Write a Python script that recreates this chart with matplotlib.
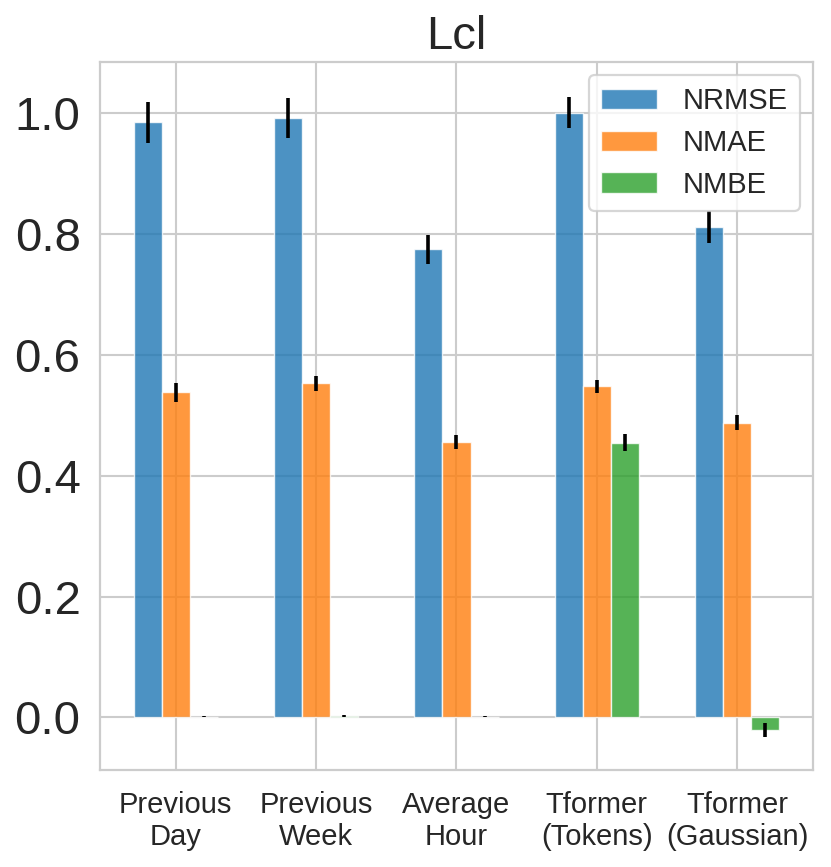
import matplotlib
matplotlib.use("Agg")
import matplotlib.pyplot as plt
import numpy as np
import seaborn as sns

sns.set_style("whitegrid")
plt.rcParams['font.family'] = ['Liberation Sans', 'DejaVu Sans']
plt.rcParams['grid.linewidth'] = 1.5
plt.rcParams['axes.linewidth'] = 1.6
plt.rcParams['legend.edgecolor'] = '0.8'

title = "Lcl"
categories = ["Previous\nDay", "Previous\nWeek", "Average\nHour", "Tformer\n(Tokens)", "Tformer\n(Gaussian)"]
series_names = ["NRMSE", "NMAE", "NMBE"]
nrmse = [0.985, 0.992, 0.775, 1.001, 0.812]
nrmse_err = [0.0335, 0.0335, 0.024, 0.026, 0.026]
nmae = [0.538, 0.553, 0.456, 0.548, 0.488]
nmae_err = [0.015, 0.0125, 0.011, 0.011, 0.012]
nmbe = [0.001, 0.002, 0.001, 0.455, -0.021]
nmbe_err = [0.001, 0.002, 0.001, 0.014, 0.011]

values = [nrmse, nmae, nmbe]
errors = [nrmse_err, nmae_err, nmbe_err]
colors = ["#1f77b4", "#ff7f0e", "#2ca02c"]

fig = plt.figure(figsize=(8.31, 8.67), dpi=100)
ax = fig.add_axes([100/831, 1-770/867, 713/831, 708/867])

x = np.arange(len(categories))
width = 0.2
for i, (name, vals, errs, c) in enumerate(zip(series_names, values, errors, colors)):
    pos = x + (i - 1) * width
    ax.bar(pos, vals, width=width, color=c, alpha=0.8, edgecolor='white',
           linewidth=1, label=name, zorder=2)
    ax.errorbar(pos, vals, yerr=errs, fmt='none', ecolor='black',
                elinewidth=2.6, capsize=0, zorder=3)

ax.set_xticks(x)
ax.set_xticklabels(categories, fontsize=21, color='#262626')
ax.set_yticks([0.0, 0.2, 0.4, 0.6, 0.8, 1.0])
ax.set_yticklabels(["0.0", "0.2", "0.4", "0.6", "0.8", "1.0"], fontsize=34, color='#262626')
ax.tick_params(axis='x', pad=15, length=0)
ax.tick_params(axis='y', pad=14, length=0)
ax.set_ylim(-0.087, 1.085)
ax.set_xlim(-0.54, 4.54)
ax.set_title(title, fontsize=34, pad=9.5, color='#262626')
leg = ax.legend(loc='upper right', fontsize=21, handlelength=1.92, handletextpad=0.86,
                labelspacing=0.47, borderpad=0.42, borderaxespad=0.45, fancybox=True)
leg.get_frame().set_linewidth(1.6)

fig.savefig("out.png", dpi=100)
